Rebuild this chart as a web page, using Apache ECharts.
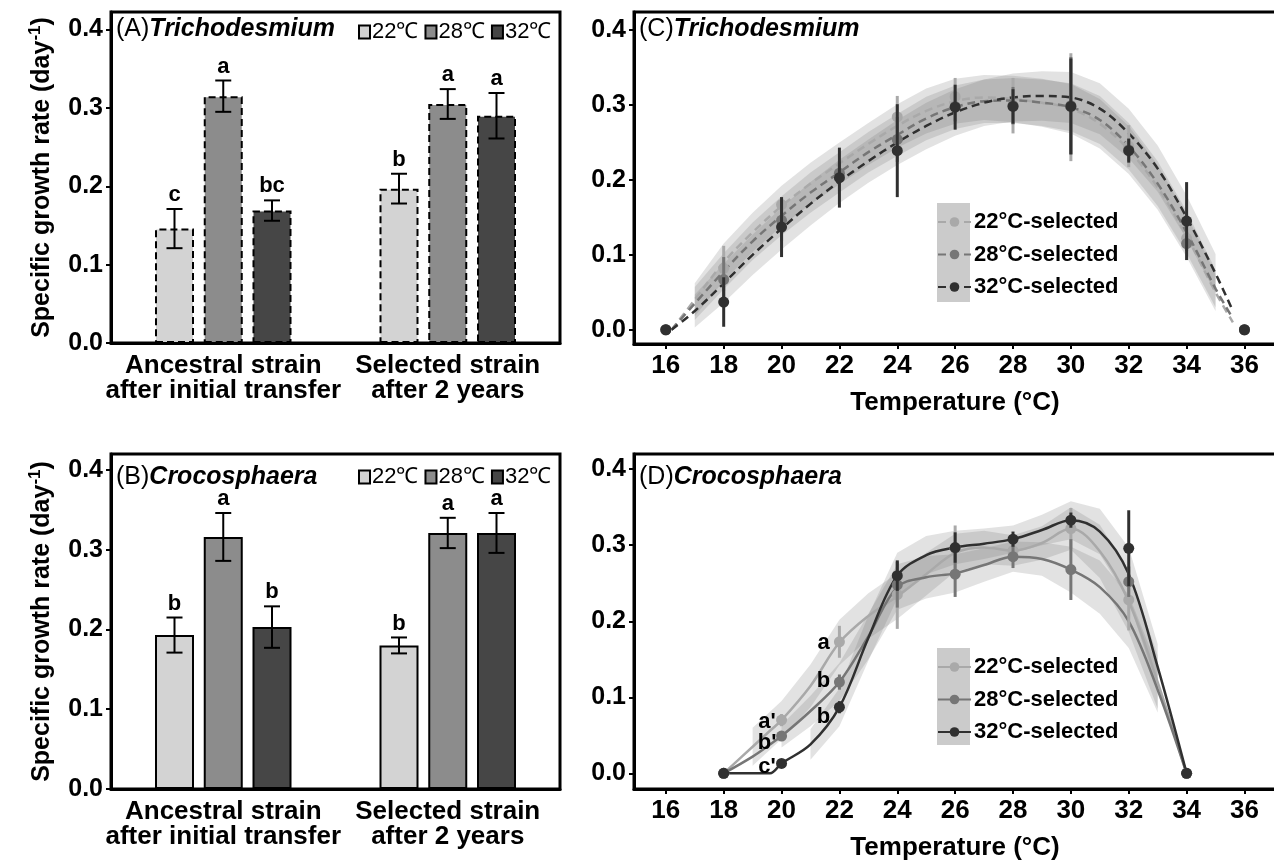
<!DOCTYPE html>
<html>
<head>
<meta charset="utf-8">
<script src="https://cdn.jsdelivr.net/npm/echarts@6/dist/echarts.min.js"></script>
<style>
  html, body { margin: 0; padding: 0; background: #fff; }
  #chart { width: 1274px; height: 860px; }
</style>
</head>
<body>
<div id="chart"></div>
<script>
const FONT = 'Liberation Sans, Arial, Helvetica, sans-serif'

// ---- bar panels (A, B) ----
const barGroups = ['Ancestral strain\nafter initial transfer', 'Selected strain\nafter 2 years']
const barTemps = ['22', '28', '32']
const barColors = ['#d3d3d3', '#8c8c8c', '#464646']

const trichoMean22 = [0.146, 0.197]
const trichoMean28 = [0.315, 0.305]
const trichoMean32 = [0.169, 0.290]
const trichoErr22 = [0.025, 0.019]
const trichoErr28 = [0.020, 0.019]
const trichoErr32 = [0.013, 0.029]
const trichoLetters22 = ['c', 'b']
const trichoLetters28 = ['a', 'a']
const trichoLetters32 = ['bc', 'a']

const crocoMean22 = [0.193, 0.180]
const crocoMean28 = [0.316, 0.321]
const crocoMean32 = [0.203, 0.321]
const crocoErr22 = [0.022, 0.010]
const crocoErr28 = [0.030, 0.019]
const crocoErr32 = [0.026, 0.025]
const crocoLetters22 = ['b', 'b']
const crocoLetters28 = ['a', 'a']
const crocoLetters32 = ['b', 'a']

const yTicks = [0, 0.1, 0.2, 0.3, 0.4]
const tempTicks = [16, 18, 20, 22, 24, 26, 28, 30, 32, 34, 36]

// ---- thermal curves, Trichodesmium (C) ----
const cTemps = [16, 18, 20, 22, 24, 26, 28, 30, 32, 34, 36]
const c22Mean = [0, 0.082, 0.167, 0.205, 0.284, 0.311, 0.299, 0.297, 0.245, 0.122, 0]
const c22Err = [0, 0.030, 0.010, 0.020, 0.028, 0.025, 0.037, 0.072, 0.028, 0.012, 0]
const c28Mean = [0, 0.067, 0.146, 0.209, 0.254, 0.298, 0.299, 0.299, 0.240, 0.115, 0]
const c28Err = [0, 0.030, 0.028, 0.015, 0.030, 0.020, 0.025, 0.065, 0.015, 0.010, 0]
const c32Mean = [0, 0.037, 0.137, 0.203, 0.239, 0.297, 0.298, 0.298, 0.239, 0.145, 0]
const c32Err = [0, 0.033, 0.040, 0.040, 0.062, 0.030, 0.023, 0.064, 0.016, 0.052, 0]

const cFitT = [16.2, 17, 18, 19, 20, 21, 22, 23, 24, 25, 26, 27, 28, 29, 30, 31, 32, 33, 34, 35, 35.6]
const c22Fit = [0, 0.040, 0.090, 0.130, 0.165, 0.195, 0.222, 0.248, 0.272, 0.292, 0.305, 0.310, 0.308, 0.303, 0.295, 0.275, 0.240, 0.190, 0.125, 0.050, 0.010]
const c28Fit = [0, 0.035, 0.078, 0.118, 0.152, 0.183, 0.210, 0.237, 0.260, 0.282, 0.297, 0.305, 0.306, 0.303, 0.297, 0.280, 0.245, 0.195, 0.130, 0.055, 0.015]
const c32Fit = [0, 0.025, 0.062, 0.100, 0.135, 0.168, 0.198, 0.225, 0.250, 0.272, 0.290, 0.303, 0.310, 0.312, 0.310, 0.295, 0.262, 0.215, 0.150, 0.075, 0.025]
const c22Se = [null, 0.022, 0.025, 0.026, 0.027, 0.028, 0.028, 0.028, 0.029, 0.030, 0.030, 0.030, 0.031, 0.032, 0.033, 0.033, 0.032, 0.030, 0.028, 0.025, null]
const c28Se = [null, 0.022, 0.024, 0.025, 0.026, 0.027, 0.027, 0.027, 0.028, 0.029, 0.029, 0.029, 0.030, 0.031, 0.032, 0.032, 0.031, 0.030, 0.028, 0.025, null]
const c32Se = [null, 0.022, 0.026, 0.027, 0.028, 0.029, 0.029, 0.029, 0.030, 0.031, 0.031, 0.031, 0.032, 0.033, 0.034, 0.034, 0.033, 0.031, 0.029, 0.026, null]

// ---- thermal curves, Crocosphaera (D) ----
const dTemps = [18, 20, 22, 24, 26, 28, 30, 32, 34]
const d22Mean = [0, 0.070, 0.173, 0.235, 0.296, 0.293, 0.322, 0.228, 0]
const d22Err = [0, 0.008, 0.021, 0.045, 0.030, 0.015, 0.027, 0.040, 0]
const d28Mean = [0, 0.049, 0.120, 0.248, 0.262, 0.285, 0.268, 0.252, 0]
const d28Err = [0, 0.005, 0.010, 0.030, 0.030, 0.015, 0.040, 0.020, 0]
const d32Mean = [0, 0.013, 0.087, 0.260, 0.297, 0.308, 0.333, 0.296, 0]
const d32Err = [0, 0.004, 0.008, 0.020, 0.020, 0.010, 0.010, 0.050, 0]

const dFitT = [18, 19, 19.6, 20, 21, 22, 23, 24, 25, 26, 27, 28, 29, 30, 31, 32, 33, 34]
const d22Fit = [0, 0.035, 0.056, 0.070, 0.115, 0.172, 0.207, 0.233, 0.262, 0.290, 0.297, 0.293, 0.303, 0.322, 0.292, 0.226, 0.120, 0]
const d28Fit = [0, 0.022, 0.038, 0.049, 0.082, 0.120, 0.180, 0.245, 0.258, 0.263, 0.274, 0.285, 0.282, 0.268, 0.245, 0.200, 0.110, 0]
const d32Fit = [0, 0, 0, 0.013, 0.038, 0.087, 0.178, 0.260, 0.287, 0.297, 0.302, 0.308, 0.320, 0.333, 0.318, 0.262, 0.140, 0]
const d22Se = [null, 0.025, 0.025, 0.025, 0.028, 0.030, 0.030, 0.030, 0.028, 0.025, 0.022, 0.020, 0.022, 0.028, 0.035, 0.040, 0.035, null]
const d28Se = [null, null, null, 0.015, 0.020, 0.025, 0.030, 0.030, 0.028, 0.025, 0.022, 0.020, 0.022, 0.030, 0.035, 0.035, 0.030, null]
const d32Se = [null, null, null, null, 0.020, 0.025, 0.030, 0.030, 0.025, 0.022, 0.020, 0.018, 0.020, 0.025, 0.030, 0.035, 0.030, null]

const dLetterX = [21.45, 21.45, 21.45, 19.5, 19.5, 19.5]
const dLetterY = [0.171, 0.121, 0.074, 0.068, 0.040, 0.009]
const dLetters = ['a', 'b', 'b', "a'", "b'", "c'"]

const lineColors = ['#a9a9a9', '#767676', '#303030']

const chart = echarts.init(document.getElementById('chart'))

const BAR_W = 39
const barErrRender = (errs, letters, k) => (params, api) => {
  const i = params.dataIndex
  const m = api.value(1)
  const hi = api.coord([i, m + errs[i]])
  const lo = api.coord([i, m - errs[i]])
  const x = hi[0] + (k - 1) * BAR_W * 1.25
  const stroke = { stroke: '#000', lineWidth: 2 }
  return {
    type: 'group',
    children: [
      { type: 'line', shape: { x1: x, y1: hi[1], x2: x, y2: lo[1] }, style: stroke },
      { type: 'line', shape: { x1: x - 8, y1: hi[1], x2: x + 8, y2: hi[1] }, style: stroke },
      { type: 'line', shape: { x1: x - 8, y1: lo[1], x2: x + 8, y2: lo[1] }, style: stroke },
      {
        type: 'text',
        style: { text: letters[i], x: x, y: hi[1] - 3, align: 'center', verticalAlign: 'bottom', font: 'bold 22px ' + FONT, fill: '#000' },
      },
    ],
  }
}

const pointRender = (errs, color) => (params, api) => {
  const i = params.dataIndex
  const t = api.value(0)
  const m = api.value(1)
  const c = api.coord([t, m])
  const hi = api.coord([t, m + errs[i]])
  const lo = api.coord([t, m - errs[i]])
  return {
    type: 'group',
    children: [
      { type: 'line', shape: { x1: c[0], y1: hi[1], x2: c[0], y2: lo[1] }, style: { stroke: color, lineWidth: 3 } },
      { type: 'circle', shape: { cx: c[0], cy: c[1], r: 5.5 }, style: { fill: color } },
    ],
  }
}

const bandRender = (temps, fit, se) => (params, api) => {
  const up = []
  const dn = []
  temps.forEach((t, i) => {
    if (se[i] == null) return
    up.push(api.coord([t, fit[i] + se[i]]))
    dn.unshift(api.coord([t, fit[i] - se[i]]))
  })
  return { type: 'polygon', shape: { points: up.concat(dn) }, style: { fill: 'rgba(110,110,110,0.2)' } }
}

const series = []

const addBarPanel = (prefix, g, means, errs, letters, dashed) => {
  barTemps.forEach((t, k) => {
    series.push({
      name: prefix + t,
      type: 'bar',
      xAxisIndex: g,
      yAxisIndex: g,
      data: means[k],
      barWidth: BAR_W,
      barGap: '25%',
      itemStyle: { color: barColors[k], borderColor: '#000', borderWidth: 2, borderType: dashed ? [7, 4] : 'solid' },
    })
    series.push({
      type: 'custom',
      xAxisIndex: g,
      yAxisIndex: g,
      z: 5,
      data: means[k].map((m, i) => [i, m]),
      renderItem: barErrRender(errs[k], letters[k], k),
    })
  })
}

addBarPanel('A', 0, [trichoMean22, trichoMean28, trichoMean32], [trichoErr22, trichoErr28, trichoErr32],
  [trichoLetters22, trichoLetters28, trichoLetters32], true)
addBarPanel('B', 1, [crocoMean22, crocoMean28, crocoMean32], [crocoErr22, crocoErr28, crocoErr32],
  [crocoLetters22, crocoLetters28, crocoLetters32], false)

const addCurvePanel = (prefix, g, temps, means, errs, fitT, fits, ses, dashed) => {
  barTemps.forEach((t, k) => {
    series.push({
      type: 'custom',
      xAxisIndex: g,
      yAxisIndex: g,
      z: 1,
      data: [[fitT[0], fits[k][0]]],
      renderItem: bandRender(fitT, fits[k], ses[k]),
    })
  })
  barTemps.forEach((t, k) => {
    series.push({
      name: prefix + t,
      type: 'line',
      xAxisIndex: g,
      yAxisIndex: g,
      z: 3,
      smooth: 0.35,
      symbol: 'circle',
      symbolSize: 10,
      showSymbol: false,
      itemStyle: { color: lineColors[k] },
      lineStyle: { color: lineColors[k], width: 2.5, type: dashed ? [8, 5] : 'solid' },
      data: fitT.map((x, i) => [x, fits[k][i]]),
    })
    series.push({
      type: 'custom',
      xAxisIndex: g,
      yAxisIndex: g,
      z: 4,
      data: temps.map((x, i) => [x, means[k][i]]),
      renderItem: pointRender(errs[k], lineColors[k]),
    })
  })
}

addCurvePanel('C', 2, cTemps, [c22Mean, c28Mean, c32Mean], [c22Err, c28Err, c32Err],
  cFitT, [c22Fit, c28Fit, c32Fit], [c22Se, c28Se, c32Se], true)
addCurvePanel('D', 3, dTemps, [d22Mean, d28Mean, d32Mean], [d22Err, d28Err, d32Err],
  dFitT, [d22Fit, d28Fit, d32Fit], [d22Se, d28Se, d32Se], false)

series.push({
  type: 'custom',
  xAxisIndex: 3,
  yAxisIndex: 3,
  z: 6,
  data: dLetterX.map((x, i) => [x, dLetterY[i]]),
  renderItem: (params, api) => {
    const c = api.coord([api.value(0), api.value(1)])
    return {
      type: 'text',
      style: { text: dLetters[params.dataIndex], x: c[0], y: c[1], align: 'center', verticalAlign: 'middle', font: 'bold 22px ' + FONT, fill: '#000' },
    }
  },
})

const gridBase = { show: true, borderColor: '#000', borderWidth: 3, backgroundColor: 'transparent', outerBoundsMode: 'none', containLabel: false }
const grids = [
  { ...gridBase, left: 111, top: 12, width: 449, height: 331 },
  { ...gridBase, left: 111, top: 454, width: 449, height: 335 },
  { ...gridBase, left: 634, top: 12, width: 642, height: 332 },
  { ...gridBase, left: 634, top: 454, width: 642, height: 335 },
]

const axisLineStyle = { show: true, onZero: false, lineStyle: { color: '#000', width: 3 } }
const tickStyle = { show: true, length: 5, lineStyle: { color: '#000', width: 2 } }
const yNameRich = {
  t: { fontSize: 25, fontWeight: 'bold', fontFamily: FONT, color: '#000', lineHeight: 30 },
  s: { fontSize: 17, fontWeight: 'bold', fontFamily: FONT, color: '#000', verticalAlign: 'top', lineHeight: 30 },
}

const catAxis = (g) => ({
  type: 'category',
  gridIndex: g,
  data: barGroups,
  axisLine: axisLineStyle,
  axisTick: { show: false },
  axisLabel: { interval: 0, color: '#000', fontFamily: FONT, fontWeight: 'bold', fontSize: 26, lineHeight: 25, margin: 10 },
  splitLine: { show: false },
})
const tempAxis = (g) => ({
  type: 'value',
  gridIndex: g,
  min: 14.9,
  max: 37.09,
  axisLine: axisLineStyle,
  axisTick: { ...tickStyle, customValues: tempTicks },
  axisLabel: { customValues: tempTicks, color: '#000', fontFamily: FONT, fontWeight: 'bold', fontSize: 26, margin: 9 },
  splitLine: { show: false },
  name: 'Temperature (°C)',
  nameLocation: 'middle',
  nameGap: 46,
  nameTextStyle: { color: '#000', fontFamily: FONT, fontWeight: 'bold', fontSize: 26 },
})
const rateAxis = (g, min, max, withName) => ({
  type: 'value',
  gridIndex: g,
  min: min,
  max: max,
  axisLine: axisLineStyle,
  axisTick: { ...tickStyle, customValues: yTicks },
  axisLabel: { customValues: yTicks, formatter: (v) => v.toFixed(1), color: '#000', fontFamily: FONT, fontWeight: 'bold', fontSize: 25, margin: 8 },
  splitLine: { show: false },
  name: withName ? '{t|Specific growth rate (day}{s|-1}{t|)}' : '',
  nameLocation: 'middle',
  nameGap: 54,
  nameTextStyle: { rich: yNameRich },
})

const titleRich = {
  n: { fontSize: 25, fontWeight: 'normal', fontFamily: FONT, color: '#000', lineHeight: 28 },
  i: { fontSize: 25, fontWeight: 'bold', fontStyle: 'italic', fontFamily: FONT, color: '#000', lineHeight: 28 },
}
const panelTitle = (label, name, left, top) => ({
  left: left,
  top: top,
  padding: 0,
  text: '{n|(' + label + ')}{i|' + name + '}',
  textStyle: { rich: titleRich },
})

const barLegend = (prefix, top, dashed) => ({
  data: barTemps.map((t) => prefix + t),
  left: 358,
  top: top,
  padding: 0,
  icon: 'rect',
  itemWidth: 11,
  itemHeight: 13,
  itemGap: 6,
  selectedMode: false,
  formatter: (name) => name.slice(1) + '℃',
  textStyle: { color: '#000', fontFamily: FONT, fontSize: 22, padding: [0, 0, 0, -3] },
})
const curveLegend = (prefix, top) => ({
  data: barTemps.map((t) => prefix + t),
  orient: 'vertical',
  left: 937,
  top: top,
  padding: 0,
  itemWidth: 33,
  itemHeight: 12,
  itemGap: 6.5,
  selectedMode: false,
  formatter: (name) => name.slice(1) + '°C-selected',
  textStyle: { color: '#000', fontFamily: FONT, fontWeight: 'bold', fontSize: 22, lineHeight: 26, padding: [0, 0, 0, -2] },
})

const option = {
  animation: false,
  backgroundColor: '#fff',
  textStyle: { fontFamily: FONT },
  title: [
    panelTitle('A', 'Trichodesmium', 116, 15),
    panelTitle('B', 'Crocosphaera', 116, 463),
    panelTitle('C', 'Trichodesmium', 639, 15),
    panelTitle('D', 'Crocosphaera', 639, 463),
  ],
  legend: [
    barLegend('A', 21, true),
    barLegend('B', 466, false),
    curveLegend('C', 209),
    curveLegend('D', 654),
  ],
  graphic: [
    { type: 'rect', left: 937, top: 203, shape: { width: 33, height: 99 }, style: { fill: '#cbcbcb' }, z: 0 },
    { type: 'rect', left: 937, top: 648, shape: { width: 33, height: 97 }, style: { fill: '#cbcbcb' }, z: 0 },
  ],
  grid: grids,
  xAxis: [catAxis(0), catAxis(1), tempAxis(2), tempAxis(3)],
  yAxis: [
    rateAxis(0, 0, 0.4224, true),
    rateAxis(1, 0, 0.42, true),
    rateAxis(2, -0.019, 0.424, false),
    rateAxis(3, -0.0206, 0.42, false),
  ],
  series: series,
}

chart.setOption(option)
</script>
</body>
</html>
